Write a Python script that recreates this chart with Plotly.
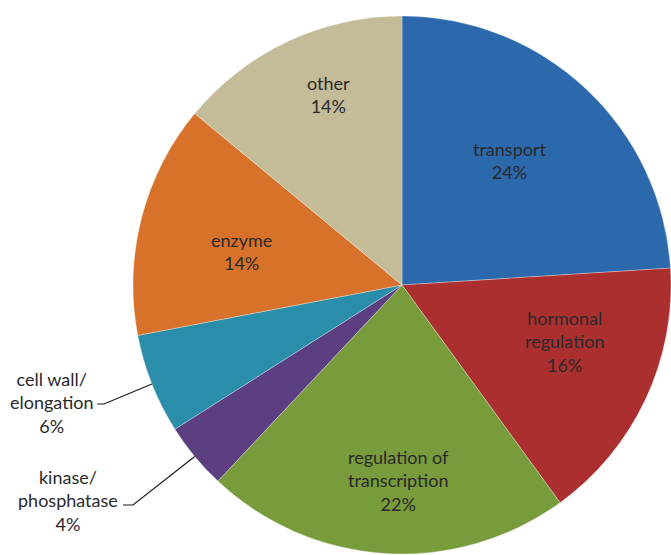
import math
import plotly.graph_objects as go

categories = ["transport", "hormonal regulation", "regulation of transcription",
              "kinase/phosphatase", "cell wall/elongation", "enzyme", "other"]
label_text = ["transport<br>24%", "hormonal<br>regulation<br>16%",
              "regulation of<br>transcription<br>22%", "kinase/<br>phosphatase<br>4%",
              "cell wall/<br>elongation<br>6%", "enzyme<br>14%", "other<br>14%"]
values = [24, 16, 22, 4, 6, 14, 14]
colors = ["#2B68AC", "#AC2F2F", "#789B3B", "#5B3F80", "#2A8EAA", "#D8722B", "#C4BC98"]
inside = [True, True, True, False, False, True, True]
# label placement inside slices: fraction of radius and angular offset (deg)
radial_frac = [0.61, 0.64, 0.725, 0, 0, 0.61, 0.76]
angle_off = [-2.4, -6.0, -2.7, 0, 0, -2.7, 4.0]

W, H = 671, 555
dom_x = [133 / W, 1.0]
dom_y = [0.0, 1 - 15 / H]

fig = go.Figure(go.Pie(
    labels=categories, values=values, sort=False, direction="clockwise", rotation=0,
    marker=dict(colors=colors, line=dict(color="rgba(255,255,255,0.5)", width=0.6)),
    textinfo="none", hoverinfo="label+percent", showlegend=False,
    domain=dict(x=dom_x, y=dom_y),
))

# pie geometry in pixels
cx = (dom_x[0] + dom_x[1]) / 2 * W
cy = (1 - (dom_y[0] + dom_y[1]) / 2) * H
R = min((dom_x[1] - dom_x[0]) * W, (dom_y[1] - dom_y[0]) * H) / 2

total = sum(values)
annotations = []
shapes = []
font = dict(family="Lato, Open Sans, sans-serif", size=18, color="#2a2a2a")

def label(x, y, text):
    return dict(x=x / W, y=1 - y / H, xref="paper", yref="paper", text=text,
                showarrow=False, font=font, align="center",
                xanchor="center", yanchor="middle")

cum = 0
for i, v in enumerate(values):
    mid = (cum + v / 2) / total * 2 * math.pi + math.radians(angle_off[i])
    cum += v
    if inside[i]:
        r = radial_frac[i] * R
        annotations.append(label(cx + r * math.sin(mid), cy - r * math.cos(mid), label_text[i]))

# outside labels with leader lines
outside_cfg = {
    4: dict(tx=52, ty=402, bend=(104, 404), end=(97, 404)),
    3: dict(tx=68, ty=500, bend=(133, 505), end=(123, 505)),
}
cum = 0
for i, v in enumerate(values):
    mid = (cum + v / 2) / total * 2 * math.pi
    cum += v
    if i in outside_cfg:
        c = outside_cfg[i]
        ex = cx + R * math.sin(mid)
        ey = cy - R * math.cos(mid)
        annotations.append(label(c["tx"], c["ty"], label_text[i]))
        path = (f"M {ex/W} {1-ey/H} L {c['bend'][0]/W} {1-c['bend'][1]/H} "
                f"L {c['end'][0]/W} {1-c['end'][1]/H}")
        shapes.append(dict(type="path", xref="paper", yref="paper", path=path,
                           line=dict(color="#1a1a1a", width=1.2)))

fig.update_layout(width=W, height=H, margin=dict(l=0, r=0, t=0, b=0),
                  paper_bgcolor="white", plot_bgcolor="white",
                  annotations=annotations, shapes=shapes)
fig.write_html("out.html")
